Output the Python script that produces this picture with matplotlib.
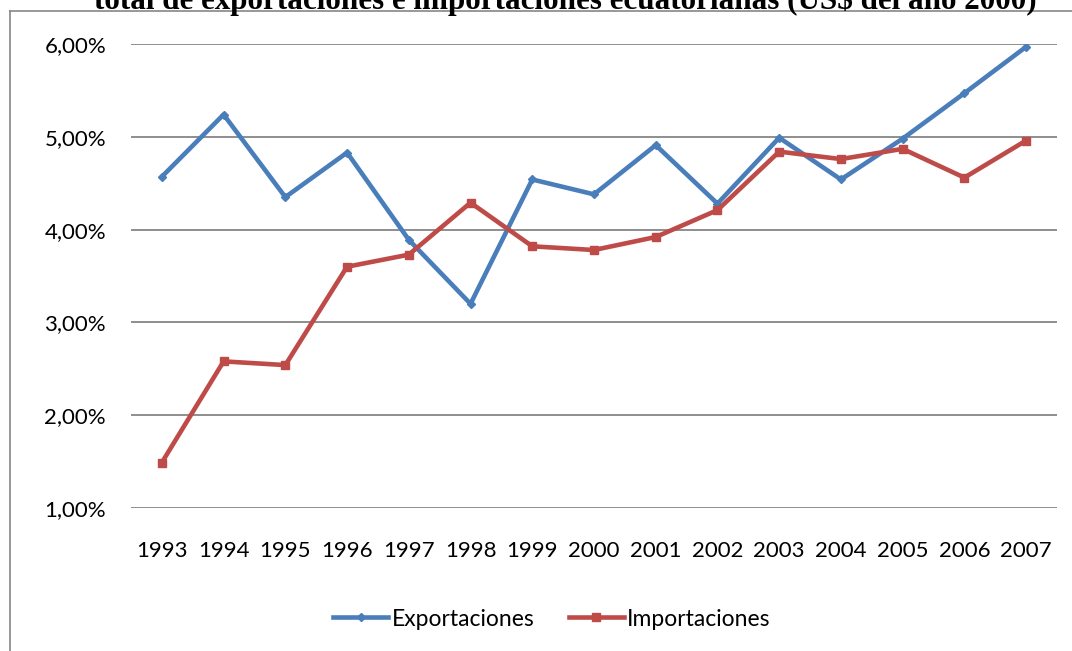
"""
plot.py - Exportaciones e importaciones ecuatorianas, 1993-2007.
"""

import matplotlib
matplotlib.use('Agg')
import matplotlib.pyplot as plt
from matplotlib.lines import Line2D
from matplotlib.ticker import FuncFormatter

years = [1993, 1994, 1995, 1996, 1997, 1998, 1999, 2000,
         2001, 2002, 2003, 2004, 2005, 2006, 2007]
exportaciones = [4.57, 5.24, 4.35, 4.83, 3.89, 3.20, 4.54, 4.38,
                 4.91, 4.28, 4.99, 4.54, 4.98, 5.47, 5.97]
importaciones = [1.49, 2.58, 2.54, 3.60, 3.73, 4.29, 3.82, 3.78,
                 3.92, 4.21, 4.84, 4.76, 4.87, 4.56, 4.96]
y_ticks = [1, 2, 3, 4, 5, 6]
title = 'total de exportaciones e importaciones ecuatorianas (US$ del año 2000)'

W, H = 1072, 651
fig = plt.figure(figsize=(W / 100, H / 100), dpi=100)

# axes area in pixel coords of the reference
left, right, top, bottom = 131, 1057, 44, 508
ax = fig.add_axes([left / W, 1 - bottom / H, (right - left) / W, (bottom - top) / H])

x = list(range(len(years)))
ax.plot(x, exportaciones, color='#4a7ebb', lw=3.3, marker='D', ms=4.5,
        solid_joinstyle='round', label='Exportaciones', zorder=3)
ax.plot(x, importaciones, color='#be4b48', lw=3.3, marker='s', ms=6,
        solid_joinstyle='round', label='Importaciones', zorder=3)

ax.set_xlim(-0.5, len(years) - 0.5)
ax.set_ylim(1, 6)
ax.set_yticks(y_ticks)
ax.yaxis.set_major_formatter(FuncFormatter(lambda v, p: f'{v:.2f}%'.replace('.', ',')))
ax.set_xticks(x)
ax.set_xticklabels([str(y) for y in years])

ax.grid(axis='y', color='#868686', lw=1.3)
ax.set_axisbelow(True)
for s in ax.spines.values():
    s.set_visible(False)

font = 'Lato'
fs = 16
ax.tick_params(axis='both', length=0, labelsize=fs, labelcolor='black')
ax.tick_params(axis='y', pad=18)
ax.tick_params(axis='x', pad=24)
for lab in ax.get_xticklabels() + ax.get_yticklabels():
    lab.set_fontfamily(font)

# chart frame (cut at the right and bottom)
fx, fy = 10 / W, 1 - 11 / H
fig.add_artist(Line2D([fx, 1.0], [fy, fy], transform=fig.transFigure, color='#868686', lw=1.2))
fig.add_artist(Line2D([fx, fx], [fy, 0.0], transform=fig.transFigure, color='#868686', lw=1.2))

# title sits partly above the page edge, as in the reference
fig.text(565 / W, 1 - 9 / H, title, ha='center', va='baseline',
         fontfamily='Liberation Serif', fontweight='bold', fontsize=22.4)

fig.legend(loc='center', bbox_to_anchor=(552 / W, 1 - 619 / H), ncol=2, frameon=False,
           prop={'family': font, 'size': 16.5}, handlelength=2.4, handletextpad=0.15,
           columnspacing=1.5)

fig.savefig('out.png', dpi=100, facecolor='white')
